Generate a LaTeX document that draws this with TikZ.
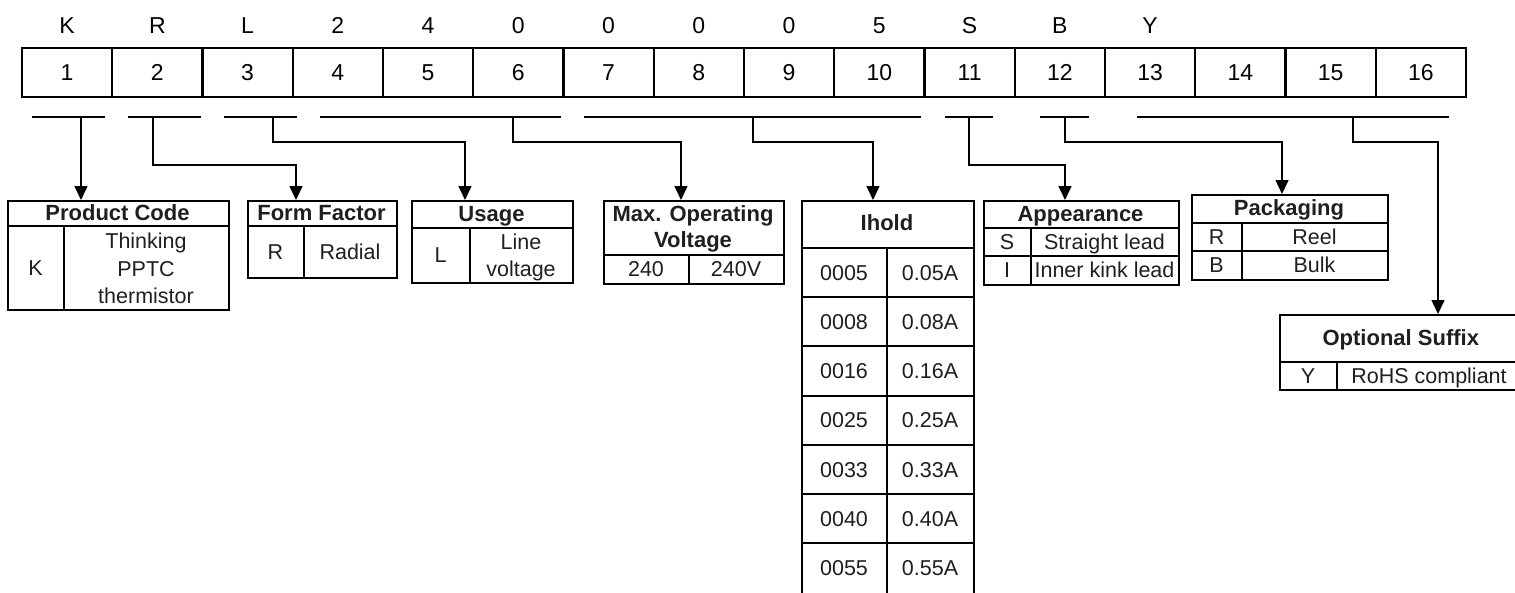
\documentclass[tikz,border=0pt]{standalone}
\usepackage{fontspec}
\setmainfont{Liberation Sans}
\usetikzlibrary{arrows.meta}
\definecolor{ink}{gray}{0.12}
\begin{document}
\begin{tikzpicture}[x=1pt,y=-1pt,
  cellbox/.style={draw,line width=2.4pt,minimum width=90.25pt,minimum height=49pt,inner sep=0pt,font=\fontsize{23}{27}\selectfont},
  lett/.style={inner sep=0pt,text height=16.5pt,text depth=0pt,font=\fontsize{23}{27}\selectfont},
  tbl/.style={draw,line width=2pt,inner sep=0pt,anchor=north west},
  tline/.style={line width=2pt},
  hd/.style={inner sep=0pt,text height=15.8pt,text depth=0pt,font=\bfseries\fontsize{22}{25}\selectfont,text=ink},
  tx/.style={inner sep=0pt,text height=15.4pt,text depth=0pt,font=\fontsize{21.5}{25}\selectfont,text=ink},
  br/.style={line width=1.6pt},
  conn/.style={line width=1.6pt,-{Triangle[width=13pt,length=14pt]}},
]
\useasboundingbox (0,0) rectangle (1515,592);
\clip (0,0) rectangle (1515,592);

% top row
\foreach \i in {1,...,16}
  \node[cellbox] (c\i) at ({22+90.25*(\i-0.5)},72.2) {\i};
\foreach \l [count=\i] in {K,R,L,2,4,0,0,0,0,5,S,B,Y}
  \node[lett] (l\i) at (c\i |- 0,25) {\l};

% tables
\node[tbl,minimum width=221pt,minimum height=109pt] (pc) at (7,200) {};
\node[tbl,minimum width=149pt,minimum height=77pt] (ff) at (247,200) {};
\node[tbl,minimum width=161pt,minimum height=82pt] (us) at (411,200) {};
\node[tbl,minimum width=180pt,minimum height=83pt] (mv) at (603,200) {};
\node[tbl,minimum width=172pt,minimum height=396pt] (ih) at (801,200) {};
\node[tbl,minimum width=195pt,minimum height=84pt] (ap) at (983,200) {};
\node[tbl,minimum width=196pt,minimum height=85pt] (pk) at (1191,194) {};
\node[tbl,minimum width=246pt,minimum height=75pt] (os) at (1279,314) {};

% table inner lines
\draw[tline] (pc.west |- 0,226) -- (pc.east |- 0,226);
\draw[tline] (64,226) -- (64,0 |- pc.south);
\draw[tline] (ff.west |- 0,226) -- (ff.east |- 0,226);
\draw[tline] (304,226) -- (304,0 |- ff.south);
\draw[tline] (us.west |- 0,228) -- (us.east |- 0,228);
\draw[tline] (470,228) -- (470,0 |- us.south);
\draw[tline] (mv.west |- 0,255) -- (mv.east |- 0,255);
\draw[tline] (689,255) -- (689,0 |- mv.south);
\foreach \y in {248,297.2,346.4,395.6,444.8,494,543.2}
  \draw[tline] (ih.west |- 0,\y) -- (ih.east |- 0,\y);
\draw[tline] (887,248) -- (887,0 |- ih.south);
\foreach \y in {228,256}
  \draw[tline] (ap.west |- 0,\y) -- (ap.east |- 0,\y);
\draw[tline] (1031,228) -- (1031,0 |- ap.south);
\foreach \y in {223,251}
  \draw[tline] (pk.west |- 0,\y) -- (pk.east |- 0,\y);
\draw[tline] (1242,223) -- (1242,0 |- pk.south);
\draw[tline] (os.west |- 0,362) -- (os.east |- 0,362);
\draw[tline] (1337,362) -- (1337,0 |- os.south);

% table texts
\node[hd] (pch) at (117.5,213) {Product Code};
\node[tx] (pck) at (35.5,268) {K};
\node[tx] (pct1) at (146,241) {Thinking};
\node[tx] (pct2) at (146,268.5) {PPTC};
\node[tx] (pct3) at (146,296) {thermistor};

\node[hd] (ffh) at (321.5,213) {Form Factor};
\node[tx] (ffr) at (275.5,252) {R};
\node[tx] (fft) at (350,252) {Radial};

\node[hd] (ush) at (491.5,214) {Usage};
\node[tx] (usl) at (440.5,255) {L};
\node[tx] (ust1) at (521,242) {Line};
\node[tx] (ust2) at (521,269) {voltage};

\node[hd] (mvh1) at (693,214) {Max. Operating};
\node[hd] (mvh2) at (693,240) {Voltage};
\node[tx] (mvc) at (646,269) {240};
\node[tx] (mvt) at (736,269) {240V};

\node[hd] (ihh) at (887,223) {Ihold};
\foreach \c/\v [count=\k] in {0005/0.05A,0008/0.08A,0016/0.16A,0025/0.25A,0033/0.33A,0040/0.40A,0055/0.55A}{
  \node[tx] (ihc\k) at (844,{248+49.2*(\k-0.5)}) {\c};
  \node[tx] (ihv\k) at (930,{248+49.2*(\k-0.5)}) {\v};
}

\node[hd] (aph) at (1080.5,214) {Appearance};
\node[tx] (aps) at (1007,242) {S};
\node[tx] (apst) at (1104.5,242) {Straight lead};
\node[tx] (api) at (1007,270) {I};
\node[tx] (apit) at (1104.5,270) {Inner kink lead};

\node[hd] (pkh) at (1289,208) {Packaging};
\node[tx] (pkr) at (1216.5,237) {R};
\node[tx] (pkrt) at (1314.5,237) {Reel};
\node[tx] (pkb) at (1216.5,265) {B};
\node[tx] (pkbt) at (1314.5,265) {Bulk};

\node[hd] (osh) at (1400.8,338) {Optional Suffix};
\node[tx] (osy) at (1308,375.5) {Y};
\node[tx] (ost) at (1429,375.5) {RoHS compliant};

% brackets
\foreach \n/\a/\b/\m in {1/32/105/81,2/128/201/153,3/224/297/273,4/320/561/513,5/584/921/753,6/945/993/969,7/1040/1089/1065,8/1137/1449/1353}{
  \coordinate (g\n L) at (\a,117);
  \coordinate (g\n R) at (\b,117);
  \coordinate (g\n) at (\m,117);
  \draw[br] (g\n L) -- (g\n R);
}
\coordinate (k2) at (296,165);
\coordinate (k3) at (465,142);
\coordinate (k4) at (681,142);
\coordinate (k5) at (873,142);
\coordinate (k6) at (1065,165);
\coordinate (k7) at (1282,142);
\coordinate (k8) at (1438,142);

% connectors
\draw[conn] (g1) -- (g1 |- pc.north);
\draw[conn] (g2) |- (k2) -- (k2 |- ff.north);
\draw[conn] (g3) |- (k3) -- (k3 |- us.north);
\draw[conn] (g4) |- (k4) -- (k4 |- mv.north);
\draw[conn] (g5) |- (k5) -- (k5 |- ih.north);
\draw[conn] (g6) |- (k6) -- (k6 |- ap.north);
\draw[conn] (g7) |- (k7) -- (k7 |- pk.north);
\draw[conn] (g8) |- (k8) -- (k8 |- os.north);
\end{tikzpicture}
\end{document}
